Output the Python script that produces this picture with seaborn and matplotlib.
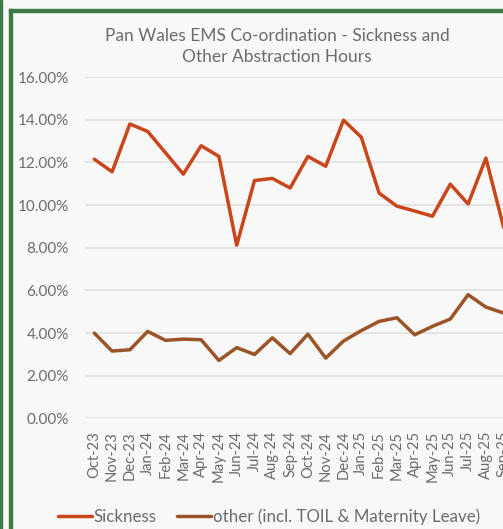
import pandas as pd
import matplotlib.pyplot as plt
import seaborn as sns
from matplotlib.patches import Rectangle
from matplotlib.ticker import PercentFormatter

# Monthly abstraction as % of hours
months = ['Oct-23', 'Nov-23', 'Dec-23', 'Jan-24', 'Feb-24', 'Mar-24', 'Apr-24', 'May-24',
          'Jun-24', 'Jul-24', 'Aug-24', 'Sep-24', 'Oct-24', 'Nov-24', 'Dec-24', 'Jan-25',
          'Feb-25', 'Mar-25', 'Apr-25', 'May-25', 'Jun-25', 'Jul-25', 'Aug-25', 'Sep-25']
sickness = [12.15, 11.56, 13.8, 13.45, 12.45, 11.45, 12.78, 12.28,
            8.12, 11.15, 11.25, 10.8, 12.28, 11.82, 13.98, 13.18,
            10.56, 9.95, 9.72, 9.48, 10.98, 10.05, 12.2, 8.95]
other = [4.0, 3.16, 3.22, 4.08, 3.66, 3.72, 3.69, 2.72,
         3.32, 3.0, 3.78, 3.04, 3.95, 2.83, 3.63, 4.12,
         4.55, 4.72, 3.92, 4.32, 4.66, 5.8, 5.22, 4.94]
series_names = ['Sickness', 'other (incl. TOIL & Maternity Leave)']
colors = ['#C9461C', '#9A5428']

df = pd.DataFrame({
    'month': months * 2,
    'value': sickness + other,
    'series': [series_names[0]] * len(months) + [series_names[1]] * len(months),
})

sns.set_style('white')
plt.rcParams['font.family'] = ['Lato', 'DejaVu Sans']
text_col = '#6b6b6b'

fig = plt.figure(figsize=(5.03, 5.29), dpi=100, facecolor='#f8f8f8')
ax = fig.add_axes([0.1698, 0.2089, 0.8493, 0.6455])
ax.set_facecolor('#f8f8f8')

sns.lineplot(data=df, x='month', y='value', hue='series', palette=colors,
             sort=False, linewidth=2.5, ax=ax, legend=True)

ax.set_xlim(-0.5, len(months) - 0.5)
ax.set_ylim(0, 16)
ax.set_yticks(range(0, 17, 2))
ax.yaxis.set_major_formatter(PercentFormatter(decimals=2))
ax.grid(axis='y', color='#e2e2e2', linewidth=1.3)
ax.set_axisbelow(True)
for s in ax.spines.values():
    s.set_visible(False)
ax.set_xlabel('')
ax.set_ylabel('')
ax.tick_params(axis='y', length=0, labelsize=11, labelcolor=text_col, pad=12)
ax.tick_params(axis='x', length=0, labelsize=10.6, labelcolor=text_col, rotation=90, pad=9)

# legend below the plot
handles, labels = ax.get_legend_handles_labels()
ax.get_legend().remove()
fig.legend(handles, labels, loc='center', bbox_to_anchor=(0.535, 0.0227), ncol=2,
           frameon=False, fontsize=12.2, labelcolor=text_col, handlelength=2.0,
           handletextpad=0.1, columnspacing=1.2)

fig.text(0.551, 0.912, 'Pan Wales EMS Co-ordination - Sickness and\nOther Abstraction Hours',
         ha='center', va='center', fontsize=12.5, color=text_col, linespacing=1.32)

# green chart frame (cropped screenshot)
green = '#3d7a44'
fig.patches.append(Rectangle((9 / 503, 0), 3 / 503, 1 - 9 / 529, transform=fig.transFigure,
                             color=green, zorder=5))
fig.patches.append(Rectangle((9 / 503, 1 - 12 / 529), 1, 3 / 529, transform=fig.transFigure,
                             color=green, zorder=5))
fig.patches.append(Rectangle((0, 0), 1.5 / 503, 1, transform=fig.transFigure,
                             color=green, zorder=5))

fig.savefig('out.png', dpi=100, facecolor=fig.get_facecolor())
